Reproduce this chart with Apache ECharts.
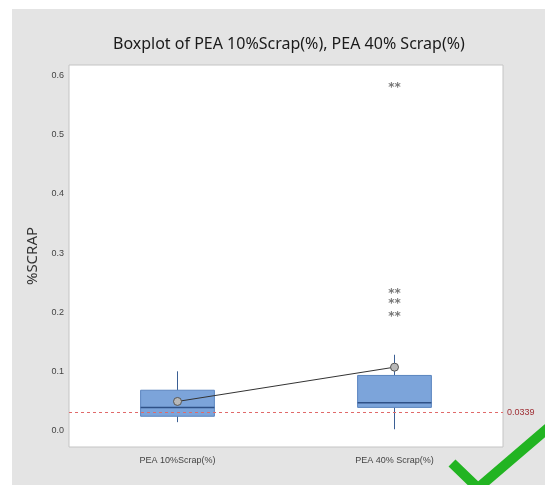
<!DOCTYPE html>
<html>
<head>
<meta charset="utf-8">
<script src="https://cdn.jsdelivr.net/npm/echarts@6/dist/echarts.min.js"></script>
<style>html,body{margin:0;padding:0;background:#fff}#c{width:545px;height:485px}</style>
</head>
<body>
<div id="c"></div>
<script>
const categories = ['PEA 10%Scrap(%)', 'PEA 40% Scrap(%)'];
const boxMin = [0.014, 0.002];
const boxQ1 = [0.024, 0.039];
const boxMedian = [0.039, 0.047];
const boxQ3 = [0.068, 0.093];
const boxMax = [0.100, 0.128];
const means = [0.049, 0.107];
const outlierCategory = [1, 1, 1, 1];
const outlierValues = [0.585, 0.236, 0.219, 0.197];
const refValue = 0.0339;
const refLabel = '0.0339';

const boxData = categories.map((c, i) => [i, boxMin[i], boxQ1[i], boxMedian[i], boxQ3[i], boxMax[i]]);
const outlierData = outlierValues.map((v, i) => [outlierCategory[i], v]);
const meanData = means.map((v, i) => [i, v]);

const chart = echarts.init(document.getElementById('c'), null, {renderer: 'canvas'});
chart.setOption({
  backgroundColor: '#ffffff',
  animation: false,
  graphic: [
    {type: 'rect', z: -10, silent: true, shape: {x: 12, y: 9, width: 540, height: 480}, style: {fill: '#e4e4e4'}},
    {type: 'polyline', z: 100, silent: true, shape: {points: [[452, 463], [478, 488], [548, 428]]}, style: {stroke: '#22b422', lineWidth: 10, fill: null}}
  ],
  title: {
    text: 'Boxplot of PEA 10%Scrap(%), PEA 40% Scrap(%)',
    left: 108, top: 31,
    textStyle: {fontFamily: 'Noto Sans', fontSize: 16, fontWeight: 'normal', color: '#1a1a1a'}
  },
  grid: {left: 69, right: 42, top: 65, bottom: 38, show: true, backgroundColor: '#ffffff', borderColor: '#c4c4c4', borderWidth: 1},
  xAxis: {
    type: 'category', data: categories, boundaryGap: true,
    axisLine: {show: false}, axisTick: {show: false}, splitLine: {show: false},
    axisLabel: {margin: 9, fontFamily: 'Liberation Sans', fontSize: 9, color: '#444'}
  },
  yAxis: {
    type: 'value', min: -0.028, max: 0.618, interval: 0.002,
    name: '%SCRAP', nameLocation: 'middle', nameGap: 29, nameRotate: 90,
    nameTextStyle: {fontFamily: 'Noto Sans', fontSize: 15, color: '#333'},
    axisLine: {show: false}, axisTick: {show: false}, splitLine: {show: false},
    axisLabel: {
      margin: 5, fontFamily: 'Liberation Sans', fontSize: 9, color: '#444',
      formatter: function (v) {
        const t = v * 10;
        if (Math.abs(t - Math.round(t)) < 1e-6 && Math.round(t) >= 0) return (Math.round(t) / 10).toFixed(1);
        return '';
      }
    }
  },
  series: [
    {
      type: 'custom', data: boxData, encode: {x: 0, y: [1, 2, 3, 4, 5]}, z: 3,
      renderItem: function (params, api) {
        const x = api.value(0);
        const pMin = api.coord([x, api.value(1)]);
        const pQ1 = api.coord([x, api.value(2)]);
        const pMed = api.coord([x, api.value(3)]);
        const pQ3 = api.coord([x, api.value(4)]);
        const pMax = api.coord([x, api.value(5)]);
        const w = api.size([1, 0])[0] * 0.34;
        const cx = pQ1[0];
        return {
          type: 'group',
          children: [
            {type: 'line', shape: {x1: cx, y1: pMax[1], x2: cx, y2: pQ3[1]}, style: {stroke: '#3b5f94', lineWidth: 1}},
            {type: 'line', shape: {x1: cx, y1: pQ1[1], x2: cx, y2: pMin[1]}, style: {stroke: '#3b5f94', lineWidth: 1}},
            {type: 'rect', shape: {x: cx - w / 2, y: pQ3[1], width: w, height: pQ1[1] - pQ3[1]}, style: {fill: '#7ca4da', stroke: '#5a84bf', lineWidth: 1}},
            {type: 'line', shape: {x1: cx - w / 2, y1: pMed[1], x2: cx + w / 2, y2: pMed[1]}, style: {stroke: '#2f5187', lineWidth: 1.5}}
          ]
        };
      },
      markLine: {
        silent: true, symbol: 'none',
        lineStyle: {color: '#e06a6a', type: [3, 3], width: 1},
        label: {show: true, position: 'end', distance: 4, formatter: refLabel, color: '#a03036', fontFamily: 'Liberation Sans', fontSize: 9},
        data: [{yAxis: refValue}]
      }
    },
    {
      type: 'line', data: meanData, z: 5,
      symbol: 'circle', symbolSize: 8,
      lineStyle: {color: '#333', width: 1},
      itemStyle: {color: '#b8b8b8', borderColor: '#555', borderWidth: 1}
    },
    {
      type: 'scatter', data: outlierData, z: 5,
      symbol: 'circle', symbolSize: 1, itemStyle: {color: 'rgba(0,0,0,0)'},
      label: {show: true, position: 'inside', formatter: '**', offset: [0, 3], fontFamily: 'DejaVu Sans', fontSize: 12, fontWeight: 'bold', color: '#555'}
    }
  ]
});
</script>
</body>
</html>
